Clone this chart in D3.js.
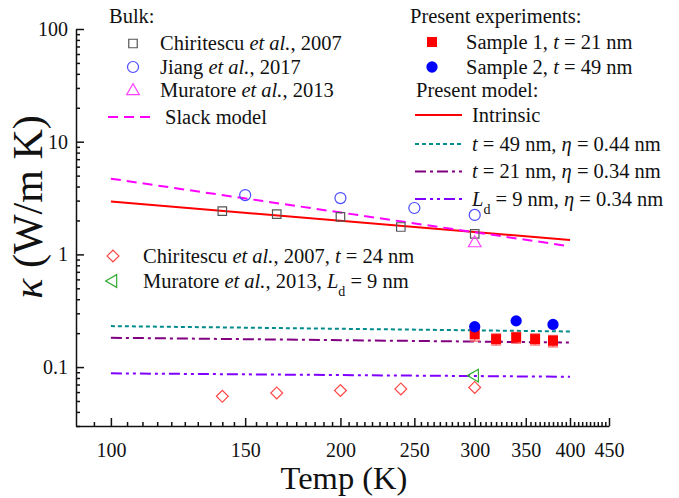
<!DOCTYPE html>
<html>
<head>
<meta charset="utf-8">
<script src="https://cdn.jsdelivr.net/npm/d3@7"></script>
<style>
  body { margin: 0; background: #fff; }
</style>
</head>
<body>
<script>
// ---- data ----
var xMajor = [100, 150, 200, 250, 300, 350, 400, 450];
var yMajor = [0.1, 1, 10, 100];
var yLabels = ["0.1", "1", "10", "100"];

var chirT = [140, 165, 200, 240, 300];
var chirK = [2.42, 2.28, 2.15, 1.75, 1.52];
var jiangT = [150, 200, 250, 300];
var jiangK = [3.36, 3.16, 2.58, 2.24];
var muraBulkT = [300];
var muraBulkK = [1.26];

var modelT = [100, 400];
var slackK = [4.7, 1.18];
var intrinsicK = [2.95, 1.34];
var t49K = [0.231, 0.207];
var t21K = [0.182, 0.165];
var ld9K = [0.088, 0.082];

var s1T = [300, 320, 340, 360, 380];
var s1K = [0.195, 0.177, 0.183, 0.177, 0.171];
var s1Err = [0.025, 0.02, 0.02, 0.02, 0.02];
var s2T = [300, 340, 380];
var s2K = [0.228, 0.257, 0.239];

var chirFilmT = [140, 165, 200, 240, 300];
var chirFilmK = [0.055, 0.059, 0.062, 0.064, 0.066];
var muraFilmT = [300];
var muraFilmK = [0.084];

var FONT = "'Liberation Serif', 'Times New Roman', serif";

var svg = d3.select("body").append("svg")
    .attr("width", 679)
    .attr("height", 498)
    .style("font-family", FONT);

var x = d3.scaleLog().domain([90, 450]).range([76, 609]);
var y = d3.scaleLog().domain([0.03, 100]).range([426, 29]);

// minor ticks
var xMinor = d3.range(95, 450, 5).filter(function(v) { return v % 50 != 0; });
var yMinor = [];
[0.01, 0.1, 1, 10].forEach(function(d) {
  for (var k = 2; k <= 9; k++) {
    var v = +(k * d).toPrecision(3);
    if (v >= 0.03 && v <= 100) yMinor.push(v);
  }
});

svg.append("g").attr("transform", "translate(0,426)")
    .call(d3.axisBottom(x).tickValues(xMajor).tickFormat(d3.format("d"))
      .tickSizeInner(-8).tickSizeOuter(0).tickPadding(17));
svg.append("g").attr("transform", "translate(0,426)")
    .call(d3.axisBottom(x).tickValues(xMinor).tickFormat("")
      .tickSizeInner(-4).tickSizeOuter(0))
    .select(".domain").remove();

svg.append("g").attr("transform", "translate(76,0)")
    .call(d3.axisLeft(y).tickValues(yMajor).tickFormat(function(d, i) { return yLabels[i]; })
      .tickSizeInner(-8).tickSizeOuter(0).tickPadding(8));
svg.append("g").attr("transform", "translate(76,0)")
    .call(d3.axisLeft(y).tickValues(yMinor).tickFormat("")
      .tickSizeInner(-4).tickSizeOuter(0))
    .select(".domain").remove();

svg.selectAll(".domain, .tick line").attr("stroke", "#111").attr("stroke-width", 1.5);
svg.selectAll("g").attr("font-family", FONT);
svg.selectAll(".tick text").style("font-family", FONT)
   .style("font-size", "20px").attr("fill", "#111");

// axis titles
svg.append("text").attr("x", 344).attr("y", 489).attr("text-anchor", "middle")
   .style("font-family", FONT).style("font-size", "32.5px").attr("fill", "#111").text("Temp (K)");
var yt = svg.append("text").attr("transform", "translate(42,207) rotate(-90)")
   .attr("text-anchor", "middle").style("font-family", FONT).style("font-size", "42px").attr("fill", "#111");
yt.append("tspan").style("font-style", "italic").text("κ");
yt.append("tspan").text(" (W/m K)");

// ---- model lines ----
function pts(T, K) { return T.map(function(t, i) { return [t, K[i]]; }); }
var line = d3.line().x(function(d) { return x(d[0]); }).y(function(d) { return y(d[1]); });

var styles = {
  slack: { c: "#ff00ff", dash: "10,6", w: 2 },
  intr: { c: "#ff0000", dash: null, w: 2 },
  t49: { c: "#008b8b", dash: "4,3", w: 2 },
  t21: { c: "#800080", dash: "11,4,3,4", w: 2 },
  ld9: { c: "#8000ff", dash: "11,4,3,4,3,4", w: 2 }
};

function drawLine(data, s) {
  svg.append("path").datum(data).attr("d", line)
     .attr("fill", "none").attr("stroke", s.c).attr("stroke-width", s.w)
     .attr("stroke-dasharray", s.dash);
}
drawLine(pts(modelT, t49K), styles.t49);
drawLine(pts(modelT, t21K), styles.t21);
drawLine(pts(modelT, ld9K), styles.ld9);
drawLine(pts(modelT, intrinsicK), styles.intr);
drawLine(pts(modelT, slackK), styles.slack);

// ---- markers ----
var sym = {
  square: d3.symbol().type(d3.symbolSquare).size(72),
  circle: d3.symbol().type(d3.symbolCircle).size(95),
  tri: d3.symbol().type(d3.symbolTriangle).size(70),
  diamond: d3.symbol().type(d3.symbolSquare).size(70),
  fsquare: d3.symbol().type(d3.symbolSquare).size(100),
  fcircle: d3.symbol().type(d3.symbolCircle).size(100)
};
var mk = {
  chir: { s: sym.square, stroke: "#555", fill: "none", rot: 0 },
  jiang: { s: sym.circle, stroke: "#4a4aff", fill: "none", rot: 0 },
  muraB: { s: sym.tri, stroke: "#ff44ff", fill: "none", rot: 0 },
  s1: { s: sym.fsquare, stroke: "none", fill: "#ff0000", rot: 0 },
  s2: { s: sym.fcircle, stroke: "none", fill: "#0000ff", rot: 0 },
  chirF: { s: sym.diamond, stroke: "#ff4444", fill: "none", rot: 45 },
  muraF: { s: sym.tri, stroke: "#33aa33", fill: "none", rot: -90 }
};

function drawMarks(T, K, m) {
  svg.append("g").selectAll("path").data(pts(T, K)).enter().append("path")
     .attr("d", m.s)
     .attr("transform", function(d) { return "translate(" + x(d[0]) + "," + y(d[1]) + ") rotate(" + m.rot + ")"; })
     .attr("fill", m.fill).attr("stroke", m.stroke).attr("stroke-width", 1.2);
}

drawMarks(chirT, chirK, mk.chir);
drawMarks(jiangT, jiangK, mk.jiang);
drawMarks(muraBulkT, muraBulkK, mk.muraB);
drawMarks(chirFilmT, chirFilmK, mk.chirF);
drawMarks(muraFilmT, muraFilmK, mk.muraF);

// error bars for sample 1
var eb = svg.append("g").attr("stroke", "#ff5a5a").attr("stroke-width", 1.2);
s1T.forEach(function(t, i) {
  var cx = x(t), y0 = y(s1K[i] - s1Err[i]), y1 = y(s1K[i] + s1Err[i]);
  eb.append("line").attr("x1", cx).attr("x2", cx).attr("y1", y0).attr("y2", y1);
  eb.append("line").attr("x1", cx - 5).attr("x2", cx + 5).attr("y1", y0).attr("y2", y0);
  eb.append("line").attr("x1", cx - 5).attr("x2", cx + 5).attr("y1", y1).attr("y2", y1);
});
drawMarks(s1T, s1K, mk.s1);
drawMarks(s2T, s2K, mk.s2);

// ---- legends ----
function label(xp, yp, parts) {
  var t = svg.append("text").attr("x", xp).attr("y", yp)
     .style("font-family", FONT).style("font-size", "20.5px").attr("fill", "#111");
  parts.forEach(function(p) {
    var s = t.append("tspan").text(p.t);
    if (p.i) s.style("font-style", "italic");
    if (p.sub) s.attr("baseline-shift", "sub").style("font-size", "14px");
  });
  return t;
}
function legMark(xp, yp, m) {
  svg.append("path").attr("d", m.s)
     .attr("transform", "translate(" + xp + "," + yp + ") rotate(" + m.rot + ")")
     .attr("fill", m.fill).attr("stroke", m.stroke).attr("stroke-width", 1.2);
}
function legLine(x0, x1, yp, s) {
  svg.append("line").attr("x1", x0).attr("x2", x1).attr("y1", yp).attr("y2", yp)
     .attr("stroke", s.c).attr("stroke-width", s.w).attr("stroke-dasharray", s.dash);
}

label(109, 23, [{ t: "Bulk:" }]);
legMark(133, 43.5, mk.chir);
label(160, 50, [{ t: "Chiritescu " }, { t: "et al.", i: true }, { t: ", 2007" }]);
legMark(133, 67, mk.jiang);
label(160, 73.5, [{ t: "Jiang " }, { t: "et al.", i: true }, { t: ", 2017" }]);
legMark(133, 91, mk.muraB);
label(160, 97, [{ t: "Muratore " }, { t: "et al.", i: true }, { t: ", 2013" }]);
legLine(108, 156, 117, styles.slack);
label(165, 123.5, [{ t: "Slack model" }]);

label(410, 23, [{ t: "Present experiments:" }]);
legMark(432, 42, mk.s1);
label(466, 48.5, [{ t: "Sample 1, " }, { t: "t", i: true }, { t: " = 21 nm" }]);
legMark(432, 67, mk.s2);
label(466, 73.5, [{ t: "Sample 2, " }, { t: "t", i: true }, { t: " = 49 nm" }]);
label(416, 97, [{ t: "Present model:" }]);
legLine(415, 462, 115, styles.intr);
label(472, 121.5, [{ t: "Intrinsic" }]);
legLine(415, 462, 144, styles.t49);
label(472, 150.5, [{ t: "t", i: true }, { t: " = 49 nm, " }, { t: "η", i: true }, { t: " = 0.44 nm" }]);
legLine(415, 462, 171.5, styles.t21);
label(472, 178, [{ t: "t", i: true }, { t: " = 21 nm, " }, { t: "η", i: true }, { t: " = 0.34 nm" }]);
legLine(415, 462, 199, styles.ld9);
label(472, 205.5, [{ t: "L", i: true }, { t: "d", sub: true }, { t: " = 9 nm, " }, { t: "η", i: true }, { t: " = 0.34 nm" }]);

legMark(113, 256, mk.chirF);
label(143, 262.5, [{ t: "Chiritescu " }, { t: "et al.", i: true }, { t: ", 2007,  " }, { t: "t", i: true }, { t: " = 24 nm" }]);
legMark(113, 281, mk.muraF);
label(143, 287.5, [{ t: "Muratore " }, { t: "et al.", i: true }, { t: ", 2013, " }, { t: "L", i: true }, { t: "d", sub: true }, { t: " = 9 nm" }]);
</script>
</body>
</html>
